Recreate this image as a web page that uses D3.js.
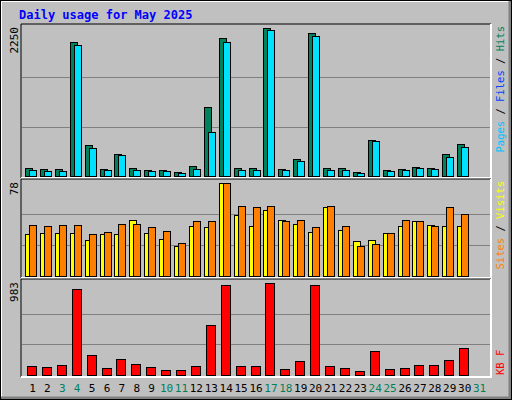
<!DOCTYPE html><html><head><script src="https://cdn.jsdelivr.net/npm/d3@7"></script>
<style>body{margin:0}svg{display:block}text{font-family:"DejaVu Sans Mono",monospace}</style></head><body><script>
const days=d3.range(1,32);
const weekend=[3,4,10,11,17,18,24,25,31];
const hits=[122,107,107,2035,474,107,337,122,92,92,61,153,1056,2097,122,122,2250,107,260,2173,122,122,61,551,92,107,138,122,337,490,0];
const pages=[92,76,76,1990,428,92,321,92,76,76,46,107,673,2035,92,92,2220,92,230,2127,92,92,46,536,76,92,122,107,291,444,0];
const sites=[35,36,36,36,30,35,35,47,36,31,25,42,41,78,51,42,55,47,44,37,58,39,29,30,36,42,46,43,42,42,0];
const visits=[43,42,43,43,35,37,44,44,41,38,28,46,46,78,59,58,59,46,47,41,59,42,25,27,36,47,46,42,58,52,0];
const kb=[97,86,108,918,216,76,173,119,86,54,54,97,530,961,97,97,983,65,151,961,97,76,43,259,65,76,108,108,162,292,0];
const W=512,H=400,L=21,R=491;
const svg=d3.select("body").append("svg").attr("width",W).attr("height",H);
svg.append("rect").attr("width",W).attr("height",H).attr("fill","#C0C0C0");
svg.append("path").attr("d","M1,399V1H511").attr("stroke","#fff").attr("stroke-width",2).attr("fill","none");
svg.append("path").attr("d","M511,1V399H1").attr("stroke","#808080").attr("stroke-width",5).attr("fill","none");
svg.append("rect").attr("x",0.5).attr("y",0.5).attr("width",W-1).attr("height",H-1).attr("fill","none").attr("stroke","#000");
svg.append("text").attr("x",19).attr("y",19).attr("fill","#0000FF").attr("font-size",12).attr("font-weight","bold").text("Daily usage for May 2025");
const x=d3.scaleBand().domain(days).range([L+4,R-4]).paddingInner(0);
function panel(y0,y1,max,label,series,ltext,bottom){
  svg.append("rect").attr("x",L).attr("y",y0).attr("width",R-L).attr("height",y1-y0).attr("fill","#C0C0C0");
  svg.append("path").attr("d",`M${L},${y1}V${y0}H${R}`).attr("stroke","#000").attr("stroke-width",1).attr("fill","none");
  svg.append("path").attr("d",`M${R},${y0}V${y1}H${L}`).attr("stroke","#fff").attr("stroke-width",2).attr("fill","none");
  const base=y1-2, y=d3.scaleLinear().domain([0,max]).range([base,y0+4]);
  [1,2].forEach(k=>{const gy=Math.round(base-(base-y0-4)*k/3)+0.5;
    svg.append("line").attr("x1",L+1).attr("x2",R-1).attr("y1",gy).attr("y2",gy).attr("stroke","#808080");});
  svg.append("text").attr("transform",`translate(18,${y0+3}) rotate(-90)`).attr("text-anchor","end").attr("font-size",11).text(label);
  series.forEach(s=>{
    svg.append("g").selectAll("rect").data(days.filter((d,i)=>s.v[i]>0)).join("rect")
      .attr("x",d=>Math.round(x(d)+s.off)+0.5).attr("width",s.w)
      .attr("y",d=>Math.round(y(s.v[d-1]))+0.5).attr("height",d=>Math.max(0,base-Math.round(y(s.v[d-1]))))
      .attr("fill",s.c).attr("stroke","#000");
  });
  const t=svg.append("text").attr("transform",bottom?`translate(504,${y1-2}) rotate(-90)`:`translate(504,${y0+2}) rotate(-90)`)
    .attr("text-anchor",bottom?"start":"end").attr("font-size",10.5);
  ltext.forEach(([s,c])=>t.append("tspan").attr("fill",c).text(s));
}
panel(24,178,2250,"2250",[{v:hits,c:"#00805C",off:0,w:7},{v:pages,c:"#00E0FF",off:4,w:7}],
  [["Pages","#00C0FF"],[" / ","#000"],["Files","#0040FF"],[" / ","#000"],["Hits","#00805C"]]);
panel(179,278,78,"78",[{v:sites,c:"#FFFF00",off:0,w:7},{v:visits,c:"#FF8000",off:4,w:7}],
  [["Sites","#FF8000"],[" / ","#000"],["Visits","#FFFF00"]]);
panel(279,377,983,"983",[{v:kb,c:"#FF0000",off:2,w:9}],[["KB F","#FF0000"]],true);
svg.append("g").selectAll("text").data(days).join("text")
  .attr("x",d=>x(d)+x.bandwidth()/2).attr("y",392).attr("text-anchor","middle").attr("font-size",11)
  .attr("fill",d=>weekend.includes(d)?"#00805C":"#000").text(d=>d);
</script></body></html>
